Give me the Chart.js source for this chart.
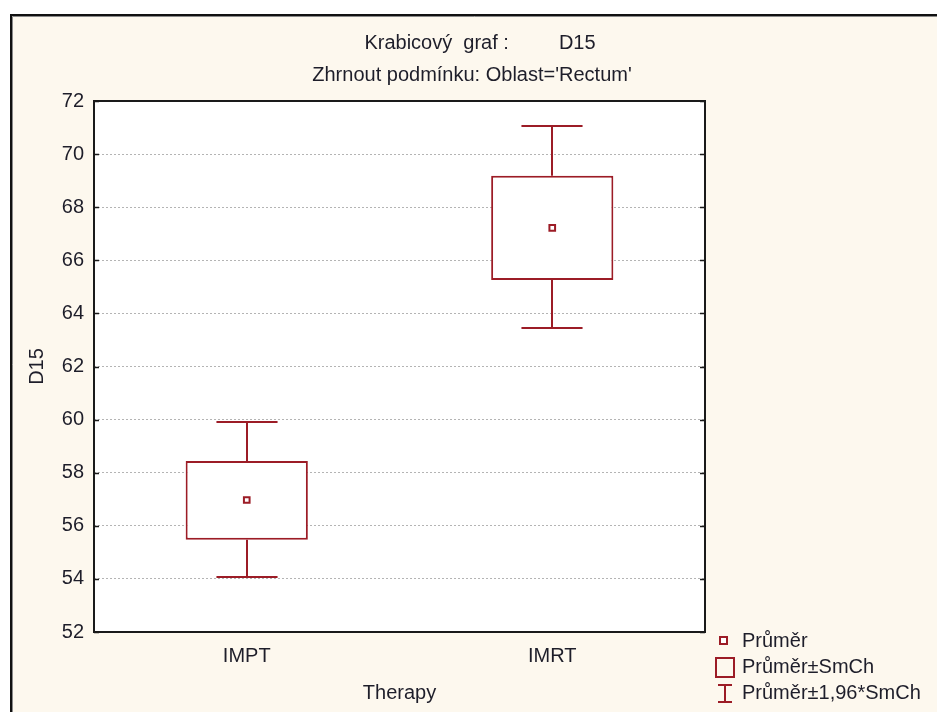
<!DOCTYPE html>
<html>
<head>
<meta charset="utf-8">
<script src="https://cdn.jsdelivr.net/npm/chart.js@4"></script>
<style>
html,body{margin:0;padding:0;background:#fff;}
#wrap{position:relative;width:937px;height:712px;}
</style>
</head>
<body>
<div id="wrap"><canvas id="c" width="937" height="712"></canvas></div>
<script>
// ---- data ----
const categories = ['IMPT', 'IMRT'];
const means = [56.97, 67.22];
const seLow = [55.47, 65.26];
const seHigh = [58.44, 69.18];
const ciLow = [54.07, 63.45];
const ciHigh = [59.91, 71.06];
const yTicks = [52, 54, 56, 58, 60, 62, 64, 66, 68, 70, 72];
const titleLines = ['Krabicový  graf :         D15', "Zhrnout podmínku: Oblast='Rectum'"];
const xTitle = 'Therapy';
const yTitle = 'D15';
const legendLabels = ['Průměr', 'Průměr±SmCh', 'Průměr±1,96*SmCh'];

const RED = '#9c1c26';
const TXT = '#1e1e2a';
const FONT = '"Liberation Sans", Arial, sans-serif';
const FS = 20;

const decor = {
  id: 'decor',
  beforeDraw(chart) {
    const ctx = chart.ctx;
    const W = chart.width, H = chart.height;
    ctx.save();
    ctx.fillStyle = '#ffffff';
    ctx.fillRect(0, 0, W, H);
    ctx.fillStyle = '#fdf8ee';
    ctx.fillRect(11, 15, W - 11, H - 15);
    // outer frame
    ctx.strokeStyle = '#8a8a8a';
    ctx.lineWidth = 1;
    ctx.beginPath();
    ctx.moveTo(12.5, H); ctx.lineTo(12.5, 16.5); ctx.lineTo(W, 16.5);
    ctx.stroke();
    ctx.strokeStyle = '#111';
    ctx.lineWidth = 2;
    ctx.beginPath();
    ctx.moveTo(11, H); ctx.lineTo(11, 15); ctx.lineTo(W, 15);
    ctx.stroke();
    // plot background
    const a = chart.chartArea;
    ctx.fillStyle = '#ffffff';
    ctx.fillRect(a.left, a.top, a.right - a.left, a.bottom - a.top);
    ctx.restore();
  },
  afterDatasetsDraw(chart) {
    const ctx = chart.ctx;
    const x = chart.scales.x, y = chart.scales.y;
    const a = chart.chartArea;
    ctx.save();
    ctx.strokeStyle = RED;
    ctx.lineWidth = 2;
    const catW = (a.right - a.left) / categories.length;
    const capHalf = catW * 0.1;
    categories.forEach((c, i) => {
      const cx = Math.round(x.getPixelForValue(i));
      const yTopBox = y.getPixelForValue(seHigh[i]);
      const yBotBox = y.getPixelForValue(seLow[i]);
      const yHi = y.getPixelForValue(ciHigh[i]);
      const yLo = y.getPixelForValue(ciLow[i]);
      ctx.beginPath();
      ctx.moveTo(cx, yTopBox); ctx.lineTo(cx, yHi);
      ctx.moveTo(cx - capHalf, yHi); ctx.lineTo(cx + capHalf, yHi);
      ctx.moveTo(cx, yBotBox); ctx.lineTo(cx, yLo);
      ctx.moveTo(cx - capHalf, yLo); ctx.lineTo(cx + capHalf, yLo);
      ctx.stroke();
    });
    ctx.restore();
  },
  afterDraw(chart) {
    const ctx = chart.ctx;
    const a = chart.chartArea;
    const y = chart.scales.y;
    ctx.save();
    // plot frame
    ctx.strokeStyle = '#1a1a1a';
    ctx.lineWidth = 2;
    ctx.strokeRect(a.left, a.top, a.right - a.left, a.bottom - a.top);
    // inward tick marks on both sides
    ctx.lineWidth = 1.5;
    yTicks.forEach(v => {
      const py = Math.round(y.getPixelForValue(v)) + 0.5;
      ctx.beginPath();
      ctx.moveTo(a.left, py); ctx.lineTo(a.left + 5, py);
      ctx.moveTo(a.right, py); ctx.lineTo(a.right - 5, py);
      ctx.stroke();
    });
    // titles
    ctx.fillStyle = TXT;
    ctx.font = FS + 'px ' + FONT;
    ctx.textAlign = 'center';
    ctx.textBaseline = 'middle';
    ctx.fillText(titleLines[0], 480, 43);
    ctx.fillText(titleLines[1], 472, 75);
    // axis titles
    ctx.fillText(xTitle, (a.left + a.right) / 2, 693);
    ctx.save();
    ctx.translate(37, (a.top + a.bottom) / 2);
    ctx.rotate(-Math.PI / 2);
    ctx.fillText(yTitle, 0, 0);
    ctx.restore();
    // legend
    ctx.textAlign = 'left';
    ctx.strokeStyle = RED;
    ctx.lineWidth = 2;
    ctx.fillStyle = '#fff';
    ctx.fillRect(720, 637, 7, 7);
    ctx.strokeRect(720, 637, 7, 7);
    ctx.strokeRect(716, 658, 18, 19);
    ctx.beginPath();
    ctx.moveTo(725, 685); ctx.lineTo(725, 702);
    ctx.moveTo(718, 685); ctx.lineTo(732, 685);
    ctx.moveTo(718, 702); ctx.lineTo(732, 702);
    ctx.stroke();
    ctx.fillStyle = TXT;
    ctx.fillText(legendLabels[0], 742, 641);
    ctx.fillText(legendLabels[1], 742, 667);
    ctx.fillText(legendLabels[2], 742, 693);
    ctx.restore();
  }
};

new Chart(document.getElementById('c'), {
  data: {
    labels: categories,
    datasets: [
      {
        type: 'bar',
        label: legendLabels[1],
        data: categories.map((c, i) => [seLow[i], seHigh[i]]),
        backgroundColor: '#ffffff',
        borderColor: RED,
        borderWidth: 2,
        borderSkipped: false,
        barPercentage: 0.4,
        categoryPercentage: 1.0,
        order: 2
      },
      {
        type: 'line',
        label: legendLabels[0],
        data: means,
        showLine: false,
        pointStyle: 'rect',
        pointRadius: 4,
        pointBackgroundColor: '#ffffff',
        pointBorderColor: RED,
        pointBorderWidth: 2,
        order: 1
      }
    ]
  },
  options: {
    responsive: false,
    animation: false,
    events: [],
    layout: { padding: { left: 24, top: 101, right: 232, bottom: 0 } },
    plugins: { legend: { display: false }, title: { display: false }, tooltip: { enabled: false } },
    scales: {
      x: {
        type: 'category',
        offset: true,
        grid: { display: false, drawTicks: false },
        border: { display: false },
        ticks: { color: TXT, font: { family: FONT, size: FS }, padding: 12 },
        afterFit(s) { s.height = 80; }
      },
      y: {
        type: 'linear',
        min: 52,
        max: 72,
        afterBuildTicks(s) { s.ticks = yTicks.map(v => ({ value: v })); },
        grid: { color: '#b4b4b4', lineWidth: 1, drawTicks: false },
        border: { display: false, dash: [2, 2] },
        ticks: { color: TXT, font: { family: FONT, size: FS }, padding: 10 },
        afterFit(s) { s.width = 70; }
      }
    }
  },
  plugins: [decor]
});
</script>
</body>
</html>
